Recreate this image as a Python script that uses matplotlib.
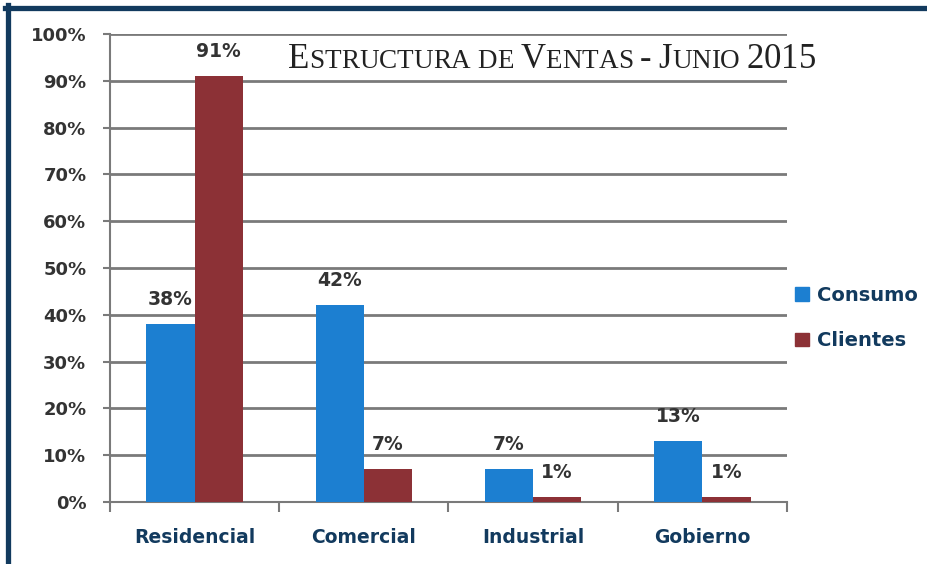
import numpy as np
import matplotlib.pyplot as plt
from matplotlib.lines import Line2D
from matplotlib.patches import Rectangle

categories = ['Residencial', 'Comercial', 'Industrial', 'Gobierno']
consumo = [38, 42, 7, 13]
clientes = [91, 7, 1, 1]
series_names = ['Consumo', 'Clientes']
yticks = list(range(0, 101, 10))

blue = '#1c7fd1'
red = '#8c3136'
navy = '#123a5e'
label_dark = '#333333'

fig = plt.figure(figsize=(9.28, 5.64), dpi=100)
ax = fig.add_axes([110 / 928, 1 - 502 / 564, 677 / 928, 468 / 564])

x = np.arange(len(categories))
w = 0.285
b1 = ax.bar(x - w / 2, consumo, w, color=blue, label=series_names[0], zorder=3)
b2 = ax.bar(x + w / 2, clientes, w, color=red, label=series_names[1], zorder=3)

for bars, vals in [(b1, consumo), (b2, clientes)]:
    for r, v in zip(bars, vals):
        ax.text(r.get_x() + r.get_width() / 2, v + 3.2, f'{v}%', ha='center', va='bottom',
                fontsize=13.5, fontweight='bold', color=label_dark, zorder=4)

ax.set_xlim(-0.5, 3.5)
ax.set_ylim(0, 100)
ax.set_yticks(yticks)
ax.set_yticklabels([f'{t}%' for t in yticks], fontsize=13, fontweight='bold', color=label_dark)
ax.yaxis.grid(True, color='#7a7a7a', linewidth=2, zorder=0)
ax.set_axisbelow(True)

ax.set_xticks(x)
ax.set_xticklabels(categories, fontsize=13.5, fontweight='bold', color=navy)
ax.tick_params(axis='x', length=0, pad=19)
ax.set_xticks(np.arange(-0.5, 4, 1), minor=True)
ax.tick_params(axis='x', which='minor', length=7, width=1.5, color='#7a7a7a', direction='out')
ax.tick_params(axis='y', length=5, width=1.5, color='#7a7a7a', pad=12)

for s in ['top', 'right']:
    ax.spines[s].set_visible(False)
for s in ['left', 'bottom']:
    ax.spines[s].set_color('#7a7a7a')
    ax.spines[s].set_linewidth(1.5)

# legend on the right
handles = [Rectangle((0, 0), 1, 1, color=blue), Rectangle((0, 0), 1, 1, color=red)]
leg = fig.legend(handles, series_names, loc='center left', bbox_to_anchor=(778 / 928, 1 - 318 / 564),
                 frameon=False, handlelength=0.7, handleheight=0.7, handletextpad=0.4,
                 labelspacing=1.35, prop={'size': 14, 'weight': 'bold'})
for t in leg.get_texts():
    t.set_color(navy)

# title in fake small caps
title = 'Estructura de Ventas - Junio 2015'
fig.canvas.draw()
renderer = fig.canvas.get_renderer()
xpos = 288
ybase = 1 - 68 / 564
big, small = 25, 19.5
for word_i, word in enumerate(title.split(' ')):
    if word_i > 0:
        xpos += 7
    for i, ch in enumerate(word):
        if ch.isdigit() or ch == '-' or (i == 0 and ch.isupper()):
            size = big
        else:
            size = small
        t = fig.text(xpos / 928, ybase, ch.upper(), fontsize=size, family='Liberation Serif',
                     color='#222222', va='baseline', ha='left')
        bb = t.get_window_extent(renderer)
        xpos += bb.width

# navy frame on top and left
fig.add_artist(Line2D([7.5 / 928, 7.5 / 928], [0, 1 - 5 / 564], color=navy, linewidth=3.8))
fig.add_artist(Line2D([5 / 928, 1], [1 - 7.5 / 564, 1 - 7.5 / 564], color=navy, linewidth=3.8))

fig.savefig('out.png', dpi=100)
